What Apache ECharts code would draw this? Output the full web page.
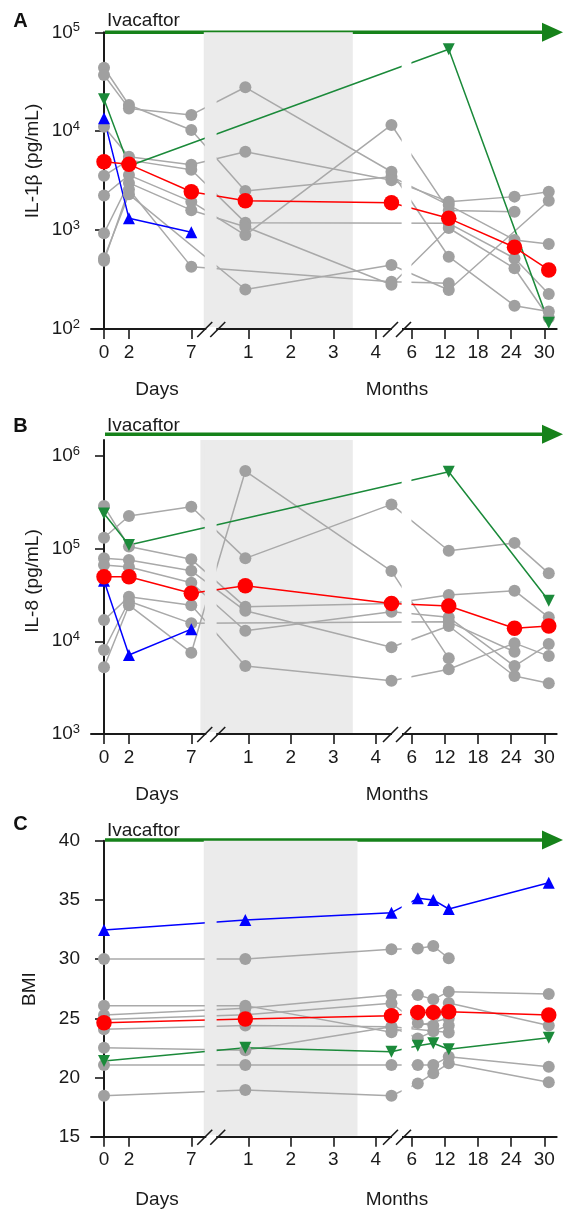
<!DOCTYPE html>
<html>
<head>
<meta charset="utf-8">
<script src="https://cdn.jsdelivr.net/npm/echarts@6/dist/echarts.min.js"></script>
<style>
  html, body { margin: 0; padding: 0; background: #fff; }
  #chart { width: 563px; height: 1214px; }
</style>
</head>
<body>
<div id="chart"></div>
<script>
// ---------------- data ----------------
// Visit times: 'd' = days, 'm' = months (first months), 'L' = months (long-term follow-up)
const VISITS_IL = [['d', 0], ['d', 2], ['d', 7], ['m', 0.93], ['m', 4.37], ['L', 12.7], ['L', 24.6], ['L', 30.8]];
const VISITS_BMI = [['d', 0], ['m', 0.93], ['m', 4.37], ['L', 7.1], ['L', 9.9], ['L', 12.7], ['L', 30.8]];

// x-axis tick labels
const X_TICKS = [['d', 0, '0'], ['d', 2, '2'], ['d', 7, '7'], ['m', 1, '1'], ['m', 2, '2'], ['m', 3, '3'], ['m', 4, '4'],
                 ['L', 6, '6'], ['L', 12, '12'], ['L', 18, '18'], ['L', 24, '24'], ['L', 30, '30']];

// IL-1β (pg/mL)
const IL1B_MEDIAN = [4900, 4620, 2440, 1980, 1890, 1315, 670, 395];
const IL1B_BLUE = [13500, 1315, 950, null, null, null, null, null];
const IL1B_GREEN = [21000, 4450, null, null, null, 67300, null, 116];
const IL1B_GRAY = [
  [43800, 18400, 10300, 2480, 3470, 1790, 795, 725],
  [37000, 17000, 14600, 27800, 3890, 538, 172, 150],
  [11100, 5520, 4570, 6200, 3200, 1940, 2180, 2440],
  [3550, 5100, 4080, 1190, null, 1170, 519, 226],
  [2240, 3600, 1940, 890, 11560, 1580, 1535, null],
  [930, 3000, 1590, 1080, 280, 1050, 411, 130],
  [490, 2570, 427, null, 300, 290, null, null],
  [520, 2300, null, 251, 444, 248, null, 1980]
];

// IL-8 (pg/mL)
const IL8_MEDIAN = [49700, 49700, 32900, 39700, 25600, 24000, 13800, 14600];
const IL8_BLUE = [45000, 7110, 13500, null, null, null, null, null];
const IL8_GREEN = [239000, 109000, null, null, null, 673000, null, 27300];
const IL8_GRAY = [
  [130600, 224000, 282000, 78300, 299000, 94600, 115000, 54000],
  [287000, 105000, 76400, 23500, 25600, 31600, 35100, 18100],
  [78300, 75200, 57500, 21300, 8610, 14600, 4220, 3520],
  [66400, 63300, 42700, 13000, 20800, 18100, 5400, 9330],
  [16900, 30200, 24500, 5400, 3760, 4990, 9540, 6920],
  [8050, 27000, 15600, null, null, 16200, 7710, null],
  [5240, 24500, 7530, 684000, 57100, 6540, null, null]
];

// BMI
const BMI_MEDIAN = [24.63, 24.94, 25.22, 25.5, 25.5, 25.56, 25.28];
const BMI_BLUE = [32.46, 33.3, 33.92, 35.13, 35.0, 34.23, 36.45];
const BMI_GREEN = [21.4, 22.52, 22.18, 22.69, 22.89, 22.38, 23.36];
const BMI_GRAY = [
  [30.0, 30.0, 30.83, 30.9, 31.1, 30.07, null],
  [26.07, 26.07, 23.82, null, null, 25.0, null],
  [25.28, 25.84, 26.97, 26.97, 26.6, 27.25, 27.05],
  [24.9, 25.3, 26.27, 24.6, 24.4, 26.3, 24.4],
  [24.07, 24.4, 24.29, 23.3, 23.9, 24.4, null],
  [22.52, 22.3, 24.29, null, null, 23.8, null],
  [21.05, 21.05, 21.05, 21.05, 21.05, 21.76, 20.9],
  [18.46, 18.94, 18.46, 19.5, 20.35, 21.2, 19.6]
];

// ---------------- broken time axis ----------------
// Three segments share one value axis: days, early months, long-term months.
const M1_POS = 11.572, MONTH_W = 3.406;   // months segment
const L6_POS = 24.675, LONG_W = 0.4431;   // long-term segment
const X_MIN = -1.0425, X_MAX = 36.30;
function toPos(seg, t) {
  if (seg === 'd') return t;
  if (seg === 'm') return M1_POS + (t - 1) * MONTH_W;
  return L6_POS + (t - 6) * LONG_W;
}
const TICK_POS = X_TICKS.map(t => toPos(t[0], t[1]));
function tickLabel(v) {
  let best = 0, bd = Infinity;
  TICK_POS.forEach((p, i) => { const d = Math.abs(p - v); if (d < bd) { bd = d; best = i; } });
  return X_TICKS[best][2];
}

// ---------------- styles ----------------
const FONT = 'Liberation Sans, Arial, Helvetica, sans-serif';
const INK = '#1a1a1a';
const GRAY_PT = '#a0a0a0', GRAY_LN = '#a9a9a9';
const RED = '#ff0000', BLUE = '#0000ff', GREEN = '#1b8a3a', ARROW = '#16821a';
const BAND = '#ebebeb';

const PANELS = [
  { key: 'A', top: 32.3, height: 296.7, log: true, min: 100, max: 1e5, yticks: [100, 1000, 1e4, 1e5],
    visits: VISITS_IL, gray: IL1B_GRAY, green: IL1B_GREEN, blue: IL1B_BLUE, med: IL1B_MEDIAN,
    band: [toPos('d', 8.0), toPos('m', 3.46)], title: 'IL-1β (pg/mL)', titleY: 161 },
  { key: 'B', top: 440, height: 294, log: true, min: 1000, max: Math.pow(10, 6.17), yticks: [1e3, 1e4, 1e5, 1e6],
    visits: VISITS_IL, gray: IL8_GRAY, green: IL8_GREEN, blue: IL8_BLUE, med: IL8_MEDIAN,
    band: [toPos('d', 7.73), toPos('m', 3.46)], title: 'IL-8 (pg/mL)', titleY: 581 },
  { key: 'C', top: 840.7, height: 296, log: false, min: 15, max: 40, yticks: [15, 20, 25, 30, 35, 40],
    visits: VISITS_BMI, gray: BMI_GRAY, green: BMI_GREEN, blue: BMI_BLUE, med: BMI_MEDIAN,
    band: [toPos('d', 8.0), toPos('m', 3.57)], title: 'BMI', titleY: 989 }
];
const GAPS = [[toPos('d', 8.08), toPos('d', 9.03), BAND], [toPos('m', 4.61), toPos('m', 4.84), '#ffffff']];
const BREAKS = [toPos('d', 8.6), toPos('m', 4.5)];

const GRID_LEFT = 91, GRID_W = 465.7;

const grids = [], xAxes = [], yAxes = [], series = [], graphics = [];

function pts(visits, vals) {
  const out = [];
  vals.forEach((v, i) => { if (v != null) out.push([toPos(visits[i][0], visits[i][1]), v]); });
  return out;
}

PANELS.forEach((p, gi) => {
  grids.push({ left: GRID_LEFT, top: p.top, width: GRID_W, height: p.height });
  xAxes.push({
    type: 'value', gridIndex: gi, min: X_MIN, max: X_MAX,
    axisLine: { show: true, onZero: false, lineStyle: { color: INK, width: 2 } },
    axisTick: { show: true, customValues: TICK_POS, length: 10, lineStyle: { color: INK, width: 1.6 } },
    axisLabel: { show: true, customValues: TICK_POS, formatter: tickLabel, fontSize: 19, fontFamily: FONT, color: INK, margin: 14 },
    splitLine: { show: false }
  });
  yAxes.push({
    type: p.log ? 'log' : 'value', logBase: 10, gridIndex: gi, min: p.min, max: p.max,
    axisLine: { show: true, lineStyle: { color: INK, width: 2 } },
    axisTick: { show: true, customValues: p.yticks, length: 9, lineStyle: { color: INK, width: 1.6 } },
    axisLabel: {
      show: true, customValues: p.yticks, margin: 11, fontFamily: FONT, color: INK, fontSize: 19,
      formatter: p.log ? (v => '{b|10}{s|' + Math.round(Math.log10(v)) + '}') : (v => String(v)),
      rich: {
        b: { fontSize: 19, fontFamily: FONT, color: INK, lineHeight: 22 },
        s: { fontSize: 13, fontFamily: FONT, color: INK, verticalAlign: 'top', lineHeight: 13 }
      }
    },
    splitLine: { show: false }
  });

  const yRef = p.min;
  // antibiotics band
  series.push({
    type: 'custom', xAxisIndex: gi, yAxisIndex: gi, z: 1, silent: true,
    data: [[p.band[0], p.band[1], yRef]],
    renderItem: (params, api) => {
      const cs = params.coordSys;
      const x0 = api.coord([api.value(0), yRef])[0], x1 = api.coord([api.value(1), yRef])[0];
      return { type: 'rect', shape: { x: x0, y: cs.y, width: x1 - x0, height: cs.height - 1 }, style: { fill: BAND } };
    }
  });

  // subject lines
  const lineOf = (vals, color, w) => ({
    type: 'line', xAxisIndex: gi, yAxisIndex: gi, z: 2, silent: true, showSymbol: false, animation: false,
    data: pts(p.visits, vals), lineStyle: { color, width: w }
  });
  p.gray.forEach(g => series.push(lineOf(g, GRAY_LN, 1.5)));
  series.push(lineOf(p.green, GREEN, 1.5));
  series.push(lineOf(p.blue, BLUE, 1.5));
  series.push(lineOf(p.med, RED, 1.5));

  // axis-break gaps in the lines
  series.push({
    type: 'custom', xAxisIndex: gi, yAxisIndex: gi, z: 3, silent: true,
    data: GAPS.map(g => [g[0], g[1], yRef]),
    renderItem: (params, api) => {
      const cs = params.coordSys;
      const x0 = api.coord([api.value(0), yRef])[0], x1 = api.coord([api.value(1), yRef])[0];
      return { type: 'rect', shape: { x: x0, y: cs.y + 4, width: x1 - x0, height: cs.height - 5 },
               style: { fill: GAPS[params.dataIndex][2] } };
    }
  });

  // markers
  const dotsOf = (vals, color, symbol, size, rot) => ({
    type: 'scatter', xAxisIndex: gi, yAxisIndex: gi, z: 4, silent: true, animation: false,
    data: pts(p.visits, vals), symbol, symbolSize: size, symbolRotate: rot || 0,
    itemStyle: { color, opacity: 1 }
  });
  p.gray.forEach(g => series.push(dotsOf(g, GRAY_PT, 'circle', 12)));
  series.push(dotsOf(p.green, GREEN, 'triangle', 12, 180));
  series.push(dotsOf(p.blue, BLUE, 'triangle', 12));
  series.push(dotsOf(p.med, RED, 'circle', 15.5));

  // axis break marks
  series.push({
    type: 'custom', xAxisIndex: gi, yAxisIndex: gi, z: 5, silent: true, clip: false,
    data: BREAKS.map(b => [b, yRef]),
    renderItem: (params, api) => {
      const cs = params.coordSys;
      const c = api.coord([api.value(0), yRef])[0];
      const yb = cs.y + cs.height;
      const st = { stroke: INK, lineWidth: 1.6 };
      return { type: 'group', children: [
        { type: 'rect', shape: { x: c - 5, y: yb - 2, width: 10, height: 4 }, style: { fill: '#fff' } },
        { type: 'line', shape: { x1: c - 14, y1: yb + 8, x2: c + 1, y2: yb - 7 }, style: st },
        { type: 'line', shape: { x1: c - 1, y1: yb + 8, x2: c + 14, y2: yb - 7 }, style: st }
      ] };
    }
  });
});

// ---------------- annotations ----------------
const txt = (x, y, text, extra) => Object.assign({
  type: 'text', x, y, silent: true,
  style: Object.assign({ text, fill: INK, font: '19px ' + FONT, textAlign: 'center', textVerticalAlign: 'middle',
                         align: 'center', verticalAlign: 'middle' }, (extra && extra.style) || {})
}, extra && extra.rotation ? { rotation: extra.rotation } : {});

const ARROW_Y = [32.3, 434.3, 840];
const IVA_Y = [20.5, 426, 831];
const LETTER_Y = [21, 426.7, 824];
const ANTI_Y = [49, 454, 858];
const ANTI_X = [277.5, 277, 280];
const AXIS_LABEL_Y = [390, 795, 1200];
const TITLE_X = [33, 33, 30];

PANELS.forEach((p, i) => {
  graphics.push(txt(20.5, LETTER_Y[i], p.key, { style: { font: 'bold 20px ' + FONT, fill: '#111' } }));
  graphics.push(txt(107, IVA_Y[i], 'Ivacaftor', { style: { textAlign: 'left', align: 'left' } }));
  graphics.push({ type: 'line', silent: true, shape: { x1: 105, y1: ARROW_Y[i], x2: 545, y2: ARROW_Y[i] },
                  style: { stroke: ARROW, lineWidth: 3.5 } });
  graphics.push({ type: 'polygon', silent: true,
                  shape: { points: [[542, ARROW_Y[i] - 9.5], [563, ARROW_Y[i]], [542, ARROW_Y[i] + 9.5]] },
                  style: { fill: ARROW } });
  graphics.push(txt(ANTI_X[i], ANTI_Y[i], 'Antibiotics'));
  graphics.push(txt(157, AXIS_LABEL_Y[i], 'Days'));
  graphics.push(txt(397, AXIS_LABEL_Y[i], 'Months'));
  graphics.push(txt(TITLE_X[i], p.titleY, p.title, { rotation: Math.PI / 2 }));
});

const chart = echarts.init(document.getElementById('chart'), null, { renderer: 'canvas' });
chart.setOption({
  animation: false,
  backgroundColor: '#ffffff',
  grid: grids, xAxis: xAxes, yAxis: yAxes, series,
  graphic: { elements: graphics }
});
</script>
</body>
</html>
